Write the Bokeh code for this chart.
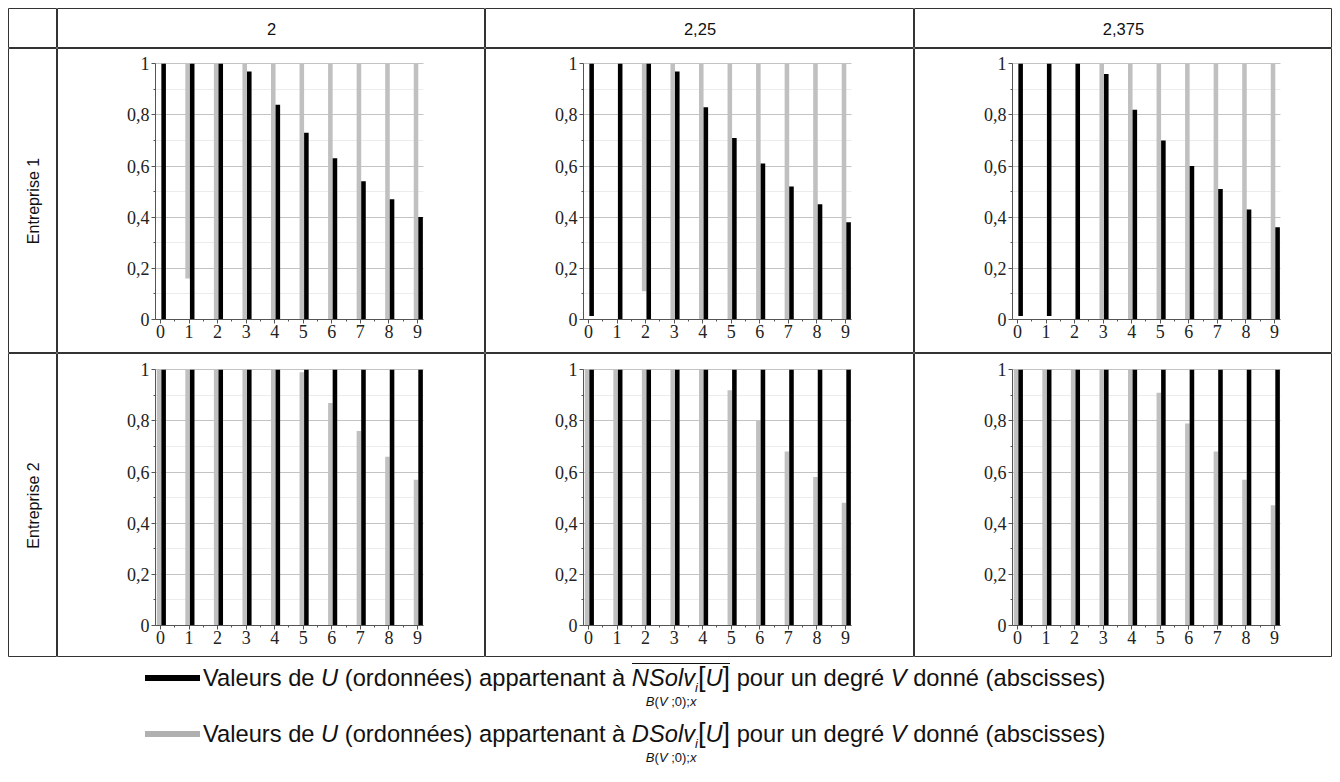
import numpy as np
from bokeh.plotting import figure
from bokeh.layouts import column, row
from bokeh.models import Range1d, LinearAxis, FixedTicker, Grid, Label, Div, ColumnDataSource
from bokeh.transform import dodge
from bokeh.embed import file_html
from bokeh.resources import INLINE

# ---------------- data ----------------
degrees = [0, 1, 2, 3, 4, 5, 6, 7, 8, 9]
col_labels = ["2", "2,25", "2,375"]
row_labels = ["Entreprise 1", "Entreprise 2"]
y_tick_values = [0, 0.2, 0.4, 0.6, 0.8, 1.0]
y_tick_labels = ["0", "0,2", "0,4", "0,6", "0,8", "1"]
nan = float("nan")

# Entreprise 1  (black = NSolv, gray = DSolv), each bar is an interval [bottom, top]
e1_2_black_bottom = [0, 0, 0, 0, 0, 0, 0, 0, 0, 0]
e1_2_black_top = [1, 1, 1, 0.97, 0.84, 0.73, 0.63, 0.54, 0.47, 0.40]
e1_2_gray_bottom = [nan, 0.16, 0, 0, 0, 0, 0, 0, 0, 0]
e1_2_gray_top = [nan, 1, 1, 1, 1, 1, 1, 1, 1, 1]

e1_225_black_bottom = [0.013, 0, 0, 0, 0, 0, 0, 0, 0, 0]
e1_225_black_top = [1, 1, 1, 0.97, 0.83, 0.71, 0.61, 0.52, 0.45, 0.38]
e1_225_gray_bottom = [nan, nan, 0.11, 0, 0, 0, 0, 0, 0, 0]
e1_225_gray_top = [nan, nan, 1, 1, 1, 1, 1, 1, 1, 1]

e1_2375_black_bottom = [0.013, 0.013, 0, 0, 0, 0, 0, 0, 0, 0]
e1_2375_black_top = [1, 1, 1, 0.96, 0.82, 0.70, 0.60, 0.51, 0.43, 0.36]
e1_2375_gray_bottom = [nan, nan, nan, 0, 0, 0, 0, 0, 0, 0]
e1_2375_gray_top = [nan, nan, nan, 1, 1, 1, 1, 1, 1, 1]

# Entreprise 2
e2_2_black_bottom = [0, 0, 0, 0, 0, 0, 0, 0, 0, 0]
e2_2_black_top = [1, 1, 1, 1, 1, 1, 1, 1, 1, 1]
e2_2_gray_bottom = [0, 0, 0, 0, 0, 0, 0, 0, 0, 0]
e2_2_gray_top = [1, 1, 1, 1, 1, 0.99, 0.87, 0.76, 0.66, 0.57]

e2_225_black_bottom = [0, 0, 0, 0, 0, 0, 0, 0, 0, 0]
e2_225_black_top = [1, 1, 1, 1, 1, 1, 1, 1, 1, 1]
e2_225_gray_bottom = [0, 0, 0, 0, 0, 0, 0, 0, 0, 0]
e2_225_gray_top = [1, 1, 1, 1, 1, 0.92, 0.80, 0.68, 0.58, 0.48]

e2_2375_black_bottom = [0, 0, 0, 0, 0, 0, 0, 0, 0, 0]
e2_2375_black_top = [1, 1, 1, 1, 1, 1, 1, 1, 1, 1]
e2_2375_gray_bottom = [0, 0, 0, 0, 0, 0, 0, 0, 0, 0]
e2_2375_gray_top = [1, 1, 1, 1, 1, 0.91, 0.79, 0.68, 0.57, 0.47]

panels = [
    [(e1_2_gray_bottom, e1_2_gray_top, e1_2_black_bottom, e1_2_black_top),
     (e1_225_gray_bottom, e1_225_gray_top, e1_225_black_bottom, e1_225_black_top),
     (e1_2375_gray_bottom, e1_2375_gray_top, e1_2375_black_bottom, e1_2375_black_top)],
    [(e2_2_gray_bottom, e2_2_gray_top, e2_2_black_bottom, e2_2_black_top),
     (e2_225_gray_bottom, e2_225_gray_top, e2_225_black_bottom, e2_225_black_top),
     (e2_2375_gray_bottom, e2_2375_gray_top, e2_2375_black_bottom, e2_2375_black_top)],
]

# ---------------- layout / style ----------------
COL_W = [49, 428, 429, 418]
ROW_H = [40, 305, 304]
LEGEND_H = 117
X_UNIT = 28.55      # px per degree
Y_UNIT = 255.5      # px per unit of U
TICK0_PX = 103      # distance from cell left edge to x=0
TOP_PX = [15.3, 16.3]
AXIS_X = -0.175
GRID_END = 9.2
BORDER = "#333333"
GRAY = "#c0c0c0"
BLACK = "#000000"
SANS = "Liberation Sans"
SERIF = "Liberation Serif"


def base_fig(w, h, xr=(0, 1), yr=(0, 1)):
    p = figure(width=w, height=h, x_range=Range1d(*xr), y_range=Range1d(*yr),
               x_axis_type=None, y_axis_type=None, output_backend="svg",
               toolbar_location=None, min_border=0, background_fill_color="white",
               border_fill_color="white")
    p.outline_line_color = BORDER
    p.outline_line_width = 1
    return p


def header_cell(w, h, text):
    p = base_fig(w, h)
    if text:
        p.add_layout(Label(x=0.5, y=0.5, text=text, text_align="center", text_baseline="middle",
                           text_font=SANS, text_font_size="16.5px", text_color="#111111"))
    return p


def row_label_cell(w, h, text):
    p = base_fig(w, h)
    p.add_layout(Label(x=0.5, y=0.5, text=text, angle=np.pi / 2, text_align="center",
                       text_baseline="middle", text_font=SANS, text_font_size="16px",
                       text_color="#111111"))
    return p


AXIS_STYLE = dict(
    axis_line_color="#555555", major_tick_line_color="#555555", minor_tick_line_color="#555555",
    major_tick_in=0, major_tick_out=4, minor_tick_in=0, minor_tick_out=2,
    major_label_text_font=SERIF, major_label_text_font_size="18px",
    major_label_text_color="#222222", major_label_standoff=2,
)


def panel_cell(w, h, top_off, gb, gt, bb, bt):
    xs = -TICK0_PX / X_UNIT
    xe = xs + w / X_UNIT
    ye = 1 + top_off / Y_UNIT
    ys = ye - h / Y_UNIT
    p = base_fig(w, h, (xs, xe), (ys, ye))

    yticker = FixedTicker(ticks=y_tick_values, minor_ticks=[0.1, 0.3, 0.5, 0.7, 0.9])
    xticker = FixedTicker(ticks=degrees, minor_ticks=[d + 0.5 for d in degrees[:-1]])

    g = Grid(dimension=1, ticker=yticker, grid_line_color="#c4c4c4", grid_line_width=1,
             minor_grid_line_color="#ececec", minor_grid_line_width=1)
    if "cross_bounds" in Grid.properties():
        g.cross_bounds = (AXIS_X, GRID_END)
    p.add_layout(g)

    src = ColumnDataSource(dict(deg=degrees, gb=gb, gt=gt, bb=bb, bt=bt))
    p.vbar(x=dodge("deg", -0.05, range=p.x_range), width=0.16, bottom="gb", top="gt",
           source=src, fill_color=GRAY, line_color=None)
    p.vbar(x=dodge("deg", 0.11, range=p.x_range), width=0.16, bottom="bb", top="bt",
           source=src, fill_color=BLACK, line_color=None)

    xaxis = LinearAxis(ticker=xticker, fixed_location=0, bounds=(AXIS_X, GRID_END), **AXIS_STYLE)
    yaxis = LinearAxis(ticker=yticker, fixed_location=AXIS_X, bounds=(0, 1),
                       major_label_overrides=dict(zip(y_tick_values, y_tick_labels)), **AXIS_STYLE)
    p.add_layout(xaxis, "below")
    p.add_layout(yaxis, "left")
    return p


rows = []
rows.append(row([header_cell(COL_W[0], ROW_H[0], "")] +
                [header_cell(COL_W[i + 1], ROW_H[0], col_labels[i]) for i in range(3)], spacing=0))
for r in range(2):
    cells = [row_label_cell(COL_W[0], ROW_H[r + 1], row_labels[r])]
    for c in range(3):
        gb, gt, bb, bt = panels[r][c]
        cells.append(panel_cell(COL_W[c + 1], ROW_H[r + 1], TOP_PX[r], gb, gt, bb, bt))
    rows.append(row(cells, spacing=0))


def legend_line(top, color, prefix, overline):
    sub = ("<span style=\"position:absolute;left:14px;top:31px;font-size:13px;line-height:14px;"
           "white-space:nowrap;\"><i>B</i>(<i>V</i> ;0);<i>x</i></span>")
    border = "border-top:1.5px solid #111;" if overline else ""
    math = ("<span style=\"position:relative;display:inline-block;" + border +
            "line-height:26px;\"><i>" + prefix + "Solv</i><sub style=\"font-size:13px;\"><i>i</i></sub>"
            "<span style=\"font-size:27px;\">[</span><i>U</i><span style=\"font-size:27px;\">]</span>"
            + sub + "</span>")
    return (f"<div style=\"position:absolute;left:137px;top:{top + 12}px;width:55px;height:6px;"
            f"background:{color};\"></div>"
            f"<div style=\"position:absolute;left:195px;top:{top}px;line-height:30px;white-space:nowrap;\">"
            f"Valeurs de <i>U</i> (ordonnées) appartenant à {math} pour un degré <i>V</i> donné (abscisses)</div>")


legend_html = ("<div style=\"position:relative;width:1324px;height:109px;font-family:'Liberation Sans',"
               "Arial,sans-serif;font-size:23.7px;color:#111;\">"
               + legend_line(6, BLACK, "N", True) + legend_line(62, "#b0b0b0", "D", False) + "</div>")
legend = Div(text=legend_html, width=1324, height=LEGEND_H - 8, margin=0)

layout = column(rows + [legend], spacing=0, margin=(8, 8, 0, 8))

with open("out.html", "w", encoding="utf-8") as f:
    f.write(file_html(layout, INLINE, title="chart"))
